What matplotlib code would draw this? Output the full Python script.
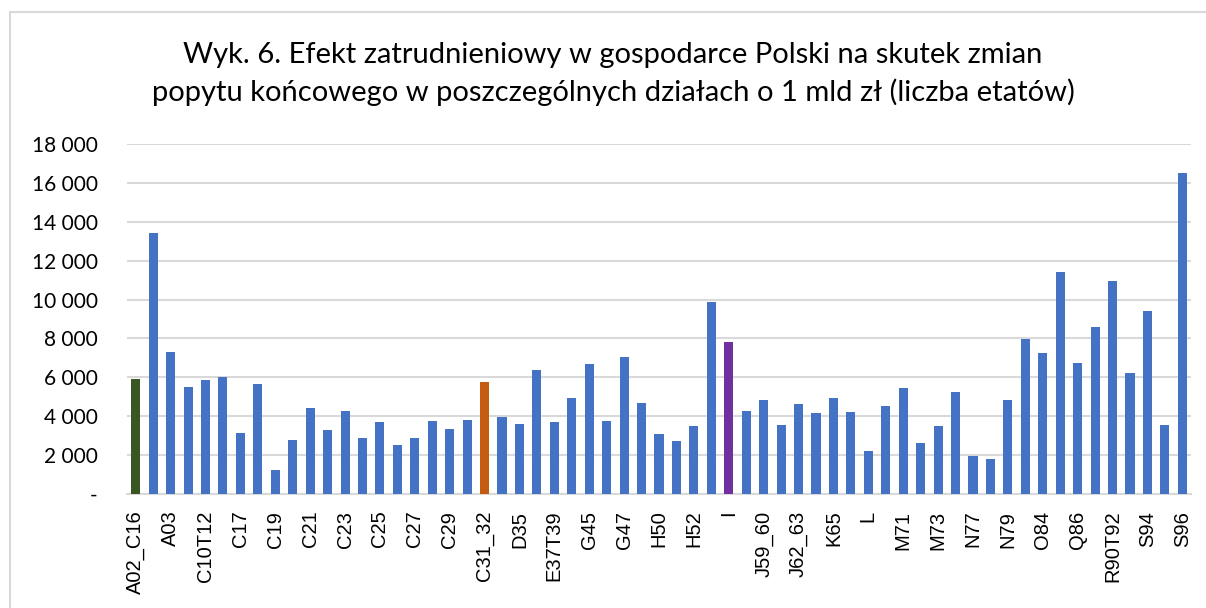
import numpy as np
import matplotlib
matplotlib.use("Agg")
import matplotlib.pyplot as plt
from matplotlib.patches import Rectangle

# sectors (only every other label is shown on the axis)
sectors = ['A02_C16', 'A01', 'A03', 'B', 'C10T12', 'C13T15', 'C17', 'C18', 'C19', 'C20',
           'C21', 'C22', 'C23', 'C24', 'C25', 'C26', 'C27', 'C28', 'C29', 'C30',
           'C31_32', 'C33', 'D35', 'E36', 'E37T39', 'F', 'G45', 'G46', 'G47', 'H49',
           'H50', 'H51', 'H52', 'H53', 'I', 'J58', 'J59_60', 'J61', 'J62_63', 'K64',
           'K65', 'K66', 'L', 'M69_70', 'M71', 'M72', 'M73', 'M74_75', 'N77', 'N78',
           'N79', 'N80T82', 'O84', 'P85', 'Q86', 'Q87_88', 'R90T92', 'R93', 'S94', 'S95',
           'S96']

# employment effect (number of jobs) per 1 bn PLN of final demand
jobs = [5930, 13430, 7300, 5480, 5870, 6030, 3130, 5670, 1230, 2790,
        4400, 3310, 4280, 2860, 3720, 2500, 2890, 3770, 3320, 3800,
        5770, 3940, 3610, 6400, 3700, 4950, 6710, 3750, 7040, 4690,
        3080, 2710, 3510, 9850, 7840, 4260, 4850, 3550, 4610, 4160,
        4950, 4210, 2190, 4520, 5450, 2640, 3510, 5270, 1950, 1820,
        4830, 7980, 7240, 11420, 6750, 8600, 10940, 6230, 9420, 3550,
        16510]

highlight = {'A02_C16': '#385723', 'C31_32': '#C55A11', 'I': '#7030A0'}
base_color = '#4472C4'

y_ticks = [0, 2000, 4000, 6000, 8000, 10000, 12000, 14000, 16000, 18000]

title = ('Wyk. 6. Efekt zatrudnieniowy w gospodarce Polski na skutek zmian\n'
         'popytu końcowego w poszczególnych działach o 1 mld zł (liczba etatów)')

fig = plt.figure(figsize=(12.06, 6.08), dpi=100)
ax = fig.add_axes([0.1053, 0.1875, 0.8823, 0.5757])

# light frame around the whole chart (cropped at right and bottom)
fig.patches.append(Rectangle((10 / 1206, -0.05), 1.1, 1 - 12 / 608 + 0.05,
                             transform=fig.transFigure, fill=False,
                             edgecolor='#D9D9D9', linewidth=1.5))

x = np.arange(len(sectors))
colors = [highlight.get(s, base_color) for s in sectors]
ax.bar(x, jobs, width=0.52, color=colors, zorder=3)

ax.set_xlim(-0.5, len(sectors) - 0.5)
ax.set_ylim(0, 18000)
ax.set_yticks(y_ticks)
ax.set_yticklabels(['-' if v == 0 else f'{v:,}'.replace(',', ' ') for v in y_ticks],
                   family='Lato', fontsize=15)
ax.set_xticks(x[::2])
ax.set_xticklabels(sectors[::2], rotation=90, family='Liberation Sans', fontsize=14.5)
ax.tick_params(axis='y', length=0, pad=21)
ax.tick_params(axis='x', length=0, pad=12)

ax.grid(axis='y', color='#D9D9D9', linewidth=1.5, zorder=0)
for s in ['top', 'right', 'left']:
    ax.spines[s].set_visible(False)
ax.spines['bottom'].set_color('#D9D9D9')
ax.spines['bottom'].set_linewidth(1.5)

fig.text(613 / 1206, 1 - 74 / 608, title, ha='center', va='center',
         family='Lato', fontsize=21, linespacing=1.45)

fig.savefig('out.png', dpi=100)
